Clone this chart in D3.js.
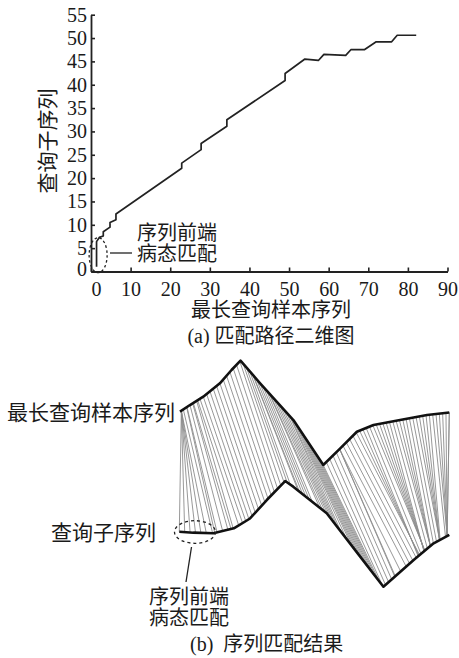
<!DOCTYPE html>
<html>
<head>
<meta charset="utf-8">
<script src="https://cdn.jsdelivr.net/npm/d3@7"></script>
<style>
  html, body { margin: 0; padding: 0; background: #fff; }
  svg { display: block; }
  text { font-family: "Liberation Serif", "Noto Sans CJK SC", serif; fill: #1a1a1a; }
</style>
</head>
<body>
<svg id="chart" width="459" height="658"></svg>
<script>
// ---------- data ----------
const xTicks = [0, 10, 20, 30, 40, 50, 60, 70, 80, 90];
const yTicks = [0, 5, 10, 15, 20, 25, 30, 35, 40, 45, 50, 55];

// warping path (x: longest sample index, y: query index)
const pathX = [1.4, 1.4, 2.1, 3.1, 3.1, 4.8, 4.8, 6.3, 6.3, 22.9, 22.9, 27.8, 27.8, 34.3, 34.3, 49.0, 49.0, 54.0, 57.4, 58.8, 64.3, 65.6, 69.0, 72.0, 75.9, 77.3, 82.1];
const pathY = [1.0, 6.4, 7.3, 7.6, 8.5, 9.5, 10.5, 11.1, 12.3, 22.1, 23.2, 26.1, 27.4, 31.1, 32.5, 40.9, 42.4, 45.5, 45.2, 46.5, 46.3, 47.5, 47.5, 49.2, 49.2, 50.6, 50.6];

// longest sample sequence (key vertices: index, value)
const sampleIdx = [1, 4.0, 8.0, 13.0, 16.5, 19.2, 25.1, 35.1, 44.1, 49.2, 54.2, 59.2, 67.2, 75.3, 82];
const sampleVal = [5.11, 5.75, 6.55, 7.83, 9.11, 10.0, 7.83, 4.31, 0, 1.60, 3.19, 3.84, 4.31, 4.79, 5.03];

// query subsequence (key vertices: index, value)
const queryIdx = [1, 3.6, 7.3, 11.1, 14.1, 17.2, 20.6, 22.1, 28.3, 34.5, 38.8, 44.4, 48.1, 51];
const queryVal = [5.27, 5.18, 5.12, 5.60, 6.54, 8.31, 10.13, 9.59, 7.04, 2.88, 0, 2.56, 4.16, 4.96];

// ---------- chart ----------
const svg = d3.select("#chart");
svg.append("rect").attr("width", 459).attr("height", 658).attr("fill", "#fff");

const CJK = "'Noto Sans CJK SC', sans-serif";

// ===== (a) top panel =====
const x = d3.scaleLinear().domain([0, 90]).range([91, 447.5]);
const y = d3.scaleLinear().domain([0, 55]).range([271.5, 14.7]);

const gx = svg.append("g").attr("transform", `translate(0,${y(0)})`)
  .call(d3.axisBottom(x).tickValues(xTicks).tickSizeInner(-4).tickSizeOuter(0).tickPadding(10));
const gy = svg.append("g").attr("transform", `translate(${x(0)},0)`)
  .call(d3.axisLeft(y).tickValues(yTicks).tickSizeInner(-4).tickSizeOuter(0).tickPadding(4));

[gx, gy].forEach(g => {
  g.select(".domain").attr("stroke", "#222").attr("stroke-width", 1.8);
  g.selectAll(".tick line").attr("stroke", "#222").attr("stroke-width", 1.6);
  g.selectAll(".tick text").attr("font-size", 20)
    .attr("font-family", "'Liberation Serif', serif").attr("fill", "#1a1a1a");
});
gx.selectAll(".tick text").filter(d => d === 0).attr("dx", 5);
gy.selectAll(".tick text").filter(d => d === 0).attr("dy", "0.18em");

const pathPts = pathX.map((v, i) => [v, pathY[i]]);
svg.append("path").datum(pathPts)
  .attr("d", d3.line().x(d => x(d[0])).y(d => y(d[1])))
  .attr("fill", "none").attr("stroke", "#222").attr("stroke-width", 1.7)
  .attr("stroke-linejoin", "round");

// annotation in top panel
svg.append("ellipse").attr("cx", x(1.8)).attr("cy", y(3.5)).attr("rx", 9).attr("ry", 17.5)
  .attr("fill", "none").attr("stroke", "#222").attr("stroke-width", 1.3)
  .attr("stroke-dasharray", "2.5,2.5");
svg.append("line").attr("x1", 110).attr("x2", 132).attr("y1", 253).attr("y2", 253)
  .attr("stroke", "#222").attr("stroke-width", 1.3);
svg.append("text").attr("x", 137).attr("y", 240).attr("font-size", 20)
  .attr("font-family", CJK).text("序列前端");
svg.append("text").attr("x", 137).attr("y", 261).attr("font-size", 20)
  .attr("font-family", CJK).text("病态匹配");

// axis titles
svg.append("text").attr("transform", "translate(55,141) rotate(-90)")
  .attr("text-anchor", "middle").attr("font-size", 21).attr("font-family", CJK).text("查询子序列");
svg.append("text").attr("x", 271).attr("y", 317).attr("text-anchor", "middle")
  .attr("font-size", 20).attr("font-family", CJK).text("最长查询样本序列");
const capA = svg.append("text").attr("x", 271).attr("y", 343).attr("text-anchor", "middle").attr("font-size", 20);
capA.append("tspan").attr("font-family", "'Liberation Serif', serif").text("(a) ");
capA.append("tspan").attr("font-family", CJK).text("匹配路径二维图");

// ===== (b) bottom panel =====
const xS = d3.scaleLinear().domain([1, 82]).range([180, 449.3]);
const xQ = d3.scaleLinear().domain([1, 51]).range([179.3, 449.3]);
const yS = d3.scaleLinear().domain([0, 10]).range([465, 360.7]);
const yQ = d3.scaleLinear().domain([0, 10]).range([586.7, 482.4]);

function interp(idx, val, t) {
  if (t <= idx[0]) return val[0];
  for (let k = 0; k < idx.length - 1; k++) {
    if (t <= idx[k + 1]) {
      const f = (t - idx[k]) / (idx[k + 1] - idx[k]);
      return val[k] + f * (val[k + 1] - val[k]);
    }
  }
  return val[val.length - 1];
}

// matched pairs along the warping path
const pairs = [[pathX[0], pathY[0]]];
for (let k = 0; k < pathX.length - 1; k++) {
  const x0 = pathX[k], y0 = pathY[k], x1 = pathX[k + 1], y1 = pathY[k + 1];
  if (Math.abs(x1 - x0) < 0.01) {
    for (let j = Math.floor(y0) + 1; j <= Math.floor(y1); j++) pairs.push([x0, j]);
  } else {
    for (let i = Math.floor(x0) + 1; i <= Math.floor(x1); i++) {
      pairs.push([i, y0 + (i - x0) * (y1 - y0) / (x1 - x0)]);
    }
  }
}
pairs.push([pathX[pathX.length - 1], pathY[pathY.length - 1]]);

svg.append("g").selectAll("line").data(pairs).join("line")
  .attr("x1", d => xS(Math.min(d[0], 82))).attr("y1", d => yS(interp(sampleIdx, sampleVal, d[0])))
  .attr("x2", d => xQ(d[1])).attr("y2", d => yQ(interp(queryIdx, queryVal, d[1])))
  .attr("stroke", "#8c8c8c").attr("stroke-width", 0.9);

const samplePts = sampleIdx.map((v, i) => [v, sampleVal[i]]);
const queryPts = queryIdx.map((v, i) => [v, queryVal[i]]);
svg.append("path").datum(samplePts)
  .attr("d", d3.line().x(d => xS(d[0])).y(d => yS(d[1])))
  .attr("fill", "none").attr("stroke", "#111").attr("stroke-width", 2.6).attr("stroke-linejoin", "round");
svg.append("path").datum(queryPts)
  .attr("d", d3.line().x(d => xQ(d[0])).y(d => yQ(d[1])))
  .attr("fill", "none").attr("stroke", "#111").attr("stroke-width", 2.6).attr("stroke-linejoin", "round");

// labels
svg.append("text").attr("x", 175).attr("y", 420).attr("text-anchor", "end")
  .attr("font-size", 21).attr("font-family", CJK).text("最长查询样本序列");
svg.append("text").attr("x", 156).attr("y", 540).attr("text-anchor", "end")
  .attr("font-size", 21).attr("font-family", CJK).text("查询子序列");

// annotation
svg.append("ellipse").attr("cx", 195).attr("cy", 532).attr("rx", 20.5).attr("ry", 11.3)
  .attr("fill", "none").attr("stroke", "#222").attr("stroke-width", 1.3).attr("stroke-dasharray", "3,3");
svg.append("line").attr("x1", 191.5).attr("y1", 547).attr("x2", 186).attr("y2", 582)
  .attr("stroke", "#222").attr("stroke-width", 1.3);
svg.append("text").attr("x", 189).attr("y", 604).attr("text-anchor", "middle")
  .attr("font-size", 20).attr("font-family", CJK).text("序列前端");
svg.append("text").attr("x", 189).attr("y", 625).attr("text-anchor", "middle")
  .attr("font-size", 20).attr("font-family", CJK).text("病态匹配");

const capB = svg.append("text").attr("x", 190).attr("y", 651).attr("font-size", 20);
capB.append("tspan").attr("font-family", "'Liberation Serif', serif").text("(b)\u00a0\u00a0");
capB.append("tspan").attr("font-family", CJK).text("序列匹配结果");
</script>
</body>
</html>
